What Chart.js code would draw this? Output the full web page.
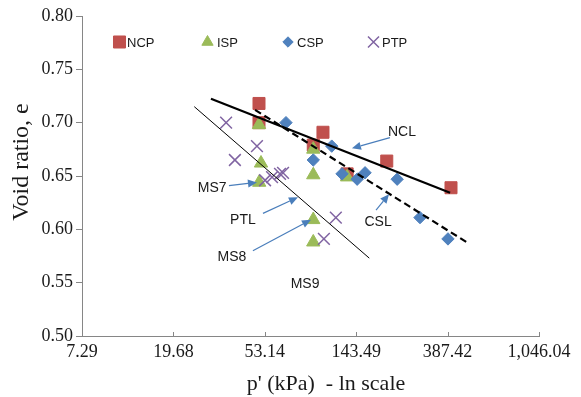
<!DOCTYPE html>
<html>
<head>
<meta charset="utf-8">
<script src="https://cdn.jsdelivr.net/npm/chart.js@4/dist/chart.umd.min.js"></script>
<style>
  html, body { margin: 0; padding: 0; background: #fff; }
</style>
</head>
<body>
<canvas id="chart" width="581" height="397"></canvas>
<script>
// axis ticks: p' steps of x2.7, void ratio steps of 0.05
const xTicks = [7.29, 19.68, 53.14, 143.49, 387.42, 1046.04];
const yTicks = [0.5, 0.55, 0.6, 0.65, 0.7, 0.75, 0.8];

// test points, p' (kPa) and void ratio e
const ncpP = [49.9, 49.9, 100, 90, 200, 402, 130];
const ncpE = [0.718, 0.700, 0.691, 0.679, 0.664, 0.639, 0.652];

const ispP = [49.9, 51, 50, 90, 90, 130, 90, 90];
const ispE = [0.698, 0.662, 0.644, 0.675, 0.651, 0.649, 0.609, 0.588];

const cspP = [66.9, 110, 90, 123, 158, 145, 224, 287, 389];
const cspE = [0.700, 0.678, 0.665, 0.652, 0.653, 0.647, 0.647, 0.611, 0.591];

const ptpP = [34.9, 48.8, 38.4, 53.3, 57.5, 62.7, 64.8, 115, 101];
const ptpE = [0.700, 0.678, 0.665, 0.646, 0.649, 0.652, 0.653, 0.611, 0.591];

// fitted lines, two end points each
const nclP = [29.6, 398];
const nclE = [0.7225, 0.6343];
const cslP = [47.8, 485];
const cslE = [0.712, 0.587];
const ptlP = [24.7, 165.4];
const ptlE = [0.715, 0.573];

const pts = (p, e) => p.map((v, i) => ({ x: v, y: e[i] }));

const series = [
  { label: 'NCP', color: '#C0504D', style: 'rect', r: 8.5, lr: 8.5 },
  { label: 'ISP', color: '#9BBB59', style: 'triangle', r: 7.7, lr: 6.5 },
  { label: 'CSP', color: '#4F81BD', style: 'rectRot', r: 6.2, lr: 5.2 },
  { label: 'PTP', color: '#8064A2', style: 'crossRot', r: 8.3, lr: 7.8 },
];
const seriesData = [pts(ncpP, ncpE), pts(ispP, ispE), pts(cspP, cspE), pts(ptpP, ptpE)];

// legend row inside the plot
const legendPos = [[119.5, 127], [207.5, 217], [288, 297], [373.5, 382]];
const legendY = 42;

// callout labels with arrows, in data units
const callouts = [
  { text: 'NCL', at: [236, 0.691], from: [207, 0.686], to: [137, 0.676] },
  { text: 'MS7', at: [30.0, 0.639], from: [36, 0.641], to: [48.8, 0.644] },
  { text: 'PTL', at: [41.9, 0.609], from: [52.1, 0.615], to: [76.2, 0.630] },
  { text: 'MS8', at: [37.2, 0.574], from: [46.7, 0.580], to: [87.8, 0.609] },
  { text: 'CSL', at: [182, 0.607], from: [178, 0.618], to: [205, 0.633] },
  { text: 'MS9', at: [82.3, 0.549] },
];

const axisGrey = '#868686';
const arrowBlue = '#4A7EBB';

const datasets = series.map((s, i) => ({
  label: s.label,
  data: seriesData[i],
  order: 4 - i,
  pointStyle: s.style,
  pointRadius: s.r,
  pointHoverRadius: s.r,
  backgroundColor: s.color,
  borderColor: s.color,
  pointBorderWidth: s.style === 'crossRot' ? 1.5 : 1,
  showLine: false,
}));

const fitLine = (p, e, width, dash) => ({
  data: pts(p, e),
  order: 0,
  showLine: true,
  borderColor: '#000',
  borderWidth: width,
  borderDash: dash,
  pointRadius: 0,
  pointHoverRadius: 0,
  fill: false,
});
datasets.push(fitLine(nclP, nclE, 2.2, []));
datasets.push(fitLine(cslP, cslE, 2.2, [7, 4]));
datasets.push(fitLine(ptlP, ptlE, 1, []));

const fmtTick = (v) => v.toLocaleString('en-US', { minimumFractionDigits: 2, maximumFractionDigits: 2 });

const decor = {
  id: 'decor',
  afterDraw(chart) {
    const ctx = chart.ctx;
    const sx = chart.scales.x;
    const sy = chart.scales.y;
    const area = chart.chartArea;

    ctx.save();
    // short tick marks pointing into the plot on the p' axis
    ctx.strokeStyle = axisGrey;
    ctx.lineWidth = 1;
    xTicks.forEach((v) => {
      const x = Math.round(sx.getPixelForValue(v)) + 0.5;
      ctx.beginPath();
      ctx.moveTo(x, area.bottom);
      ctx.lineTo(x, area.bottom - 4);
      ctx.stroke();
    });

    // callout arrows
    ctx.strokeStyle = arrowBlue;
    ctx.fillStyle = arrowBlue;
    ctx.lineWidth = 1.2;
    callouts.forEach((c) => {
      if (!c.from) return;
      const x0 = sx.getPixelForValue(c.from[0]);
      const y0 = sy.getPixelForValue(c.from[1]);
      const x1 = sx.getPixelForValue(c.to[0]);
      const y1 = sy.getPixelForValue(c.to[1]);
      const ang = Math.atan2(y1 - y0, x1 - x0);
      const len = 9;
      const half = 4;
      const bx = x1 - Math.cos(ang) * len;
      const by = y1 - Math.sin(ang) * len;
      ctx.beginPath();
      ctx.moveTo(x0, y0);
      ctx.lineTo(bx, by);
      ctx.stroke();
      ctx.beginPath();
      ctx.moveTo(x1, y1);
      ctx.lineTo(bx - Math.sin(ang) * half, by + Math.cos(ang) * half);
      ctx.lineTo(bx + Math.sin(ang) * half, by - Math.cos(ang) * half);
      ctx.closePath();
      ctx.fill();
    });

    // callout labels
    ctx.fillStyle = '#1a1a1a';
    ctx.font = '14px "Liberation Sans", Arial, sans-serif';
    ctx.textAlign = 'center';
    ctx.textBaseline = 'middle';
    callouts.forEach((c) => {
      ctx.fillText(c.text, sx.getPixelForValue(c.at[0]), sy.getPixelForValue(c.at[1]));
    });

    // legend
    ctx.font = '13px "Liberation Sans", Arial, sans-serif';
    ctx.textAlign = 'left';
    series.forEach((s, i) => {
      const [mx, tx] = legendPos[i];
      ctx.fillStyle = s.color;
      ctx.strokeStyle = s.color;
      ctx.lineWidth = s.style === 'crossRot' ? 1.5 : 1;
      Chart.helpers.drawPoint(ctx, { pointStyle: s.style, radius: s.lr, borderWidth: ctx.lineWidth, rotation: 0 }, mx, legendY);
      ctx.fillStyle = '#1a1a1a';
      ctx.fillText(s.label, tx, legendY + 1);
    });

    // axis titles
    ctx.fillStyle = '#1a1a1a';
    ctx.font = '22px "Liberation Serif", "Times New Roman", serif';
    ctx.textAlign = 'center';
    ctx.textBaseline = 'alphabetic';
    ctx.fillText("p' (kPa)  - ln scale", 326, 390);
    ctx.font = '24px "Liberation Serif", "Times New Roman", serif';
    ctx.translate(28, 162);
    ctx.rotate(-Math.PI / 2);
    ctx.fillText('Void ratio, e', 0, 0);
    ctx.restore();
  },
};

new Chart(document.getElementById('chart'), {
  type: 'scatter',
  data: { datasets },
  options: {
    responsive: false,
    animation: false,
    events: [],
    layout: { padding: { left: 0, right: 42, top: 16, bottom: 0 } },
    plugins: { legend: { display: false }, tooltip: { enabled: false } },
    scales: {
      x: {
        type: 'logarithmic',
        min: xTicks[0],
        max: xTicks[xTicks.length - 1],
        afterBuildTicks: (scale) => { scale.ticks = xTicks.map((v) => ({ value: v })); },
        afterFit: (scale) => { scale.height = 61; },
        grid: { drawOnChartArea: false, drawTicks: false },
        border: { display: true, color: axisGrey, width: 1 },
        ticks: {
          autoSkip: false,
          maxRotation: 0,
          padding: 5,
          color: '#1a1a1a',
          font: { family: '"Liberation Serif", "Times New Roman", serif', size: 18 },
          callback: (v) => fmtTick(v),
        },
      },
      y: {
        type: 'linear',
        min: yTicks[0],
        max: yTicks[yTicks.length - 1],
        afterBuildTicks: (scale) => { scale.ticks = yTicks.map((v) => ({ value: v })); },
        afterFit: (scale) => { scale.width = 82; },
        grid: { drawOnChartArea: false, drawTicks: true, tickLength: 6, color: axisGrey },
        border: { display: true, color: axisGrey, width: 1 },
        ticks: {
          padding: 3,
          color: '#1a1a1a',
          font: { family: '"Liberation Serif", "Times New Roman", serif', size: 18 },
          callback: (v) => v.toFixed(2),
        },
      },
    },
  },
  plugins: [decor],
});
</script>
</body>
</html>
